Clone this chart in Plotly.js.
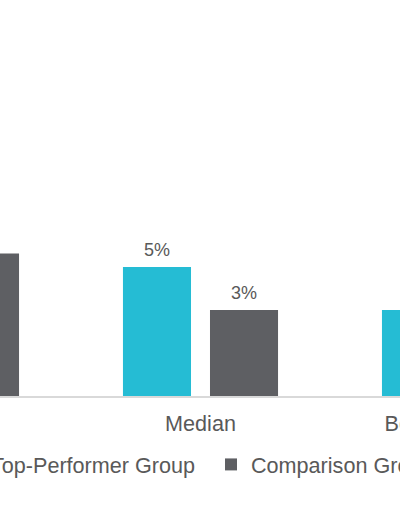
<!DOCTYPE html>
<html>
<head>
<meta charset="utf-8">
<script src="https://cdn.plot.ly/plotly-3.0.1.min.js"></script>
<style>
  html, body { margin: 0; padding: 0; width: 400px; height: 516px; overflow: hidden; background: #ffffff; }
  #chart { position: absolute; left: -388px; top: 0; width: 1177px; height: 516px; }
</style>
</head>
<body>
<div id="chart"></div>
<script>
// Data (values as fractions)
var categories = ["Top Quartile", "Median", "Bottom Quartile"];
var topPerformer = [0.090, 0.048, 0.032];
var comparison = [0.053, 0.032, 0.020];
var seriesNames = ["Top-Performer Group", "Comparison Group"];

var TEAL = "#25BCD4";
var GRAY = "#5E5F63";
var TEXT = "#595959";

var traces = [
  { type: "bar", name: seriesNames[0], x: categories, y: topPerformer,
    marker: { color: TEAL, line: { width: 0 } }, hoverinfo: "none" },
  { type: "bar", name: seriesNames[1], x: categories, y: comparison,
    marker: { color: GRAY, line: { width: 0 } }, hoverinfo: "none" }
];

var annotations = [];
[topPerformer, comparison].forEach(function (vals, i) {
  vals.forEach(function (v, j) {
    annotations.push({
      x: categories[j], y: v, xref: "x", yref: "y",
      text: Math.round(v * 100) + "%",
      showarrow: false, yanchor: "bottom", xanchor: "center",
      xshift: i === 0 ? -43.5 : 43.5, yshift: 5,
      font: { family: "Liberation Sans, Arial, sans-serif", size: 18, color: TEXT }
    });
  });
});

var layout = {
  width: 1177, height: 516,
  margin: { l: 200, r: 200, t: 127, b: 120, pad: 0, autoexpand: false },
  paper_bgcolor: "#ffffff", plot_bgcolor: "#ffffff",
  font: { family: "Liberation Sans, Arial, sans-serif", color: TEXT },
  barmode: "group", bargap: 0.328, bargroupgap: 0.218,
  xaxis: {
    type: "category", range: [-0.5, 2.5],
    showline: true, linecolor: "#D9D9D9", linewidth: 1.5,
    showgrid: false, zeroline: false, ticks: "",
    ticklabelstandoff: 8,
    tickfont: { size: 21.6, color: TEXT }
  },
  yaxis: {
    range: [0, 0.10], visible: false, showgrid: false, zeroline: false
  },
  showlegend: true,
  legend: {
    orientation: "h", x: 0.1789, xanchor: "left", y: -0.178, yanchor: "top",
    font: { size: 21.6, color: TEXT }, bgcolor: "rgba(0,0,0,0)",
    entrywidth: 215, entrywidthmode: "pixels", traceorder: "normal"
  },
  annotations: annotations
};

Plotly.newPlot("chart", traces, layout, { displayModeBar: false, staticPlot: true });
</script>
</body>
</html>
